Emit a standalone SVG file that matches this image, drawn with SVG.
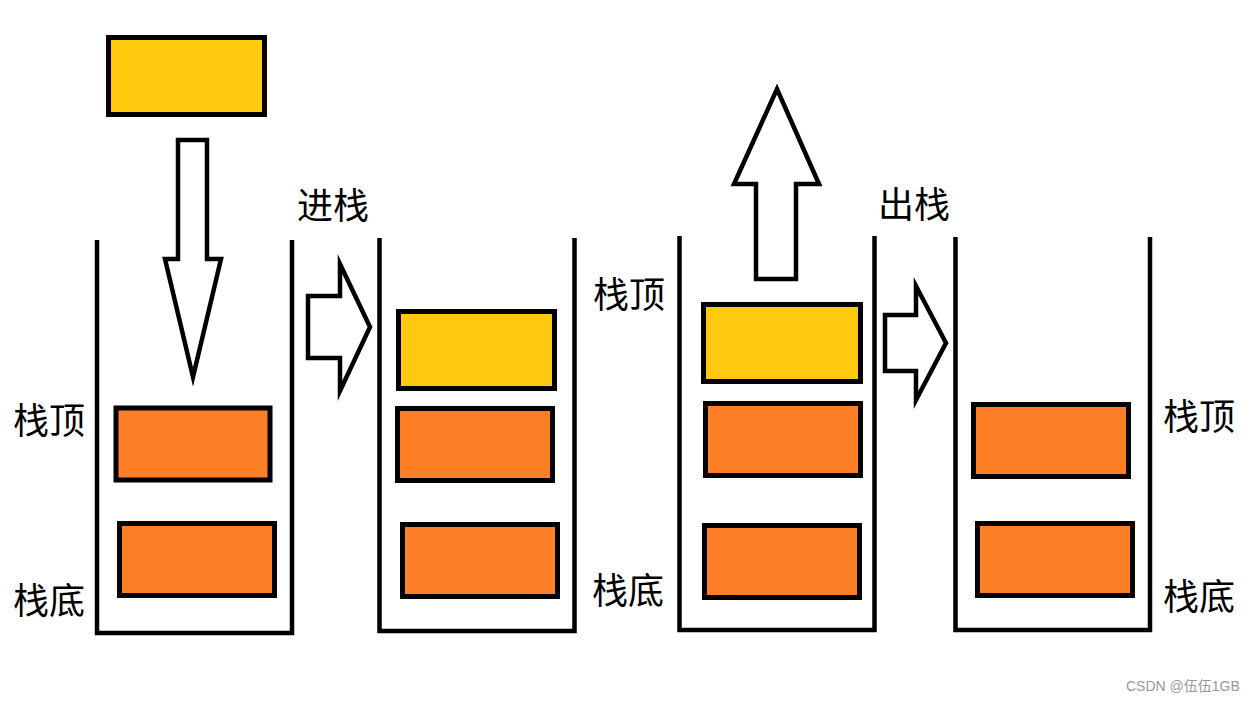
<svg xmlns="http://www.w3.org/2000/svg" width="1255" height="702" viewBox="0 0 1255 702">
<style>
.stack{fill:none;stroke:#000;stroke-width:4.5;stroke-linejoin:miter}
.y{fill:#FFC90E;stroke:#000;stroke-width:5}
.o{fill:#FF7F27;stroke:#000;stroke-width:5}
.arrow{fill:#fff;stroke:#000;stroke-width:4.5;stroke-linejoin:miter;stroke-miterlimit:10}
.lbl{font-family:"Noto Sans CJK SC","Noto Sans",sans-serif;font-size:36px;fill:#000}
.wm{font-family:"Liberation Sans","Noto Sans CJK SC",sans-serif;font-size:14px;fill:#999}
</style>
<rect width="1255" height="702" fill="#fff"/>
<g id="stack1">
<polyline class="stack" points="97,240 97,633 292,633 292,240"/>
<rect class="o" x="116" y="408" width="154" height="72"/>
<rect class="o" x="119.5" y="523.5" width="155" height="72"/>
</g>
<g id="incoming">
<rect class="y" x="108.5" y="37.5" width="156" height="77"/>
</g>
<g id="stack2">
<polyline class="stack" points="379.5,238 379.5,631 574.5,631 574.5,238"/>
<rect class="y" x="398.5" y="311.5" width="156" height="77"/>
<rect class="o" x="397.5" y="408.5" width="155" height="72"/>
<rect class="o" x="402.5" y="524.5" width="155" height="72"/>
</g>
<g id="stack3">
<polyline class="stack" points="679.5,236 679.5,630 874.5,630 874.5,236"/>
<rect class="y" x="703.5" y="304.5" width="157" height="77"/>
<rect class="o" x="705.5" y="403.5" width="155" height="72"/>
<rect class="o" x="704.5" y="525.5" width="155" height="72"/>
</g>
<g id="stack4">
<polyline class="stack" points="955.5,237 955.5,630 1150,630 1150,237"/>
<rect class="o" x="973.5" y="404.5" width="155" height="72"/>
<rect class="o" x="977.5" y="523.5" width="155" height="72"/>
</g>
<g id="connectors">
<polygon class="arrow" points="178,140 207,140 207,259 221,259 193,377 165,259 178,259"/>
<polygon class="arrow" points="308,296 340,296 340,264 370,327 340,391 340,358 308,358"/>
<polygon class="arrow" points="756,279 756,184 734,184 777,89 819,184 796,184 796,279"/>
<polygon class="arrow" points="885,315 916,315 916,286 946,343 916,400 916,371 885,371"/>
</g>
<g id="labels">
<text class="lbl" x="297" y="219">进栈</text>
<text class="lbl" x="878" y="218">出栈</text>
<text class="lbl" x="13" y="434">栈顶</text>
<text class="lbl" x="13" y="614">栈底</text>
<text class="lbl" x="593" y="308">栈顶</text>
<text class="lbl" x="592" y="604">栈底</text>
<text class="lbl" x="1163" y="430">栈顶</text>
<text class="lbl" x="1163" y="610">栈底</text>
<text class="wm" x="1126" y="691">CSDN @伍伍1GB</text>
</g>
</svg>
